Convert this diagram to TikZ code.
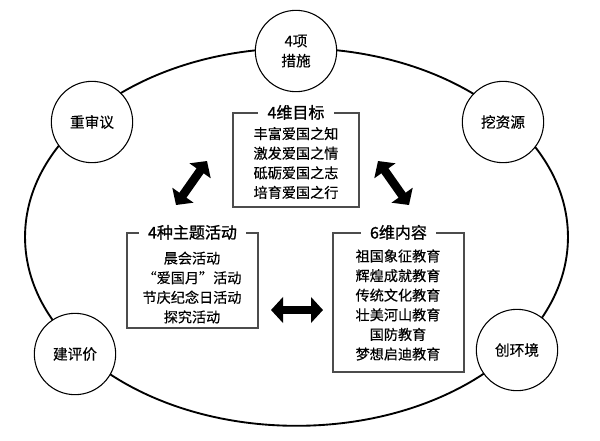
\documentclass[tikz,border=0pt]{standalone}
\usepackage{fontspec}
\newfontfamily\cjk[UprightFeatures={FakeBold=0.3}]{Noto Sans CJK SC}
\newfontfamily\cjkhead[UprightFeatures={FakeBold=1.2}]{Noto Sans CJK SC}
\usetikzlibrary{arrows.meta}

\tikzset{
  ring/.style={circle,draw,line width=0.8pt,fill=white,minimum size=61pt,inner sep=0pt},
  frame/.style={draw=black!70,line width=0.9pt,inner sep=0pt},
  boxtitle/.style={fill=white,inner xsep=7pt,inner ysep=1pt,font=\cjkhead\fontsize{12}{14}\selectfont},
  lines/.style={align=center,font=\cjk\fontsize{10.6}{14.7}\selectfont},
  fatarrow/.style={line width=6.5pt,{Triangle[length=9pt,width=19pt]}-{Triangle[length=9pt,width=19pt]}}
}

\begin{document}
\begin{tikzpicture}[x=0.75pt,y=-0.75pt,every node/.style={font=\cjk\fontsize{11}{15}\selectfont}]
\useasboundingbox (0,0) rectangle (600,440);
% outer ring
\draw[line width=1.4pt] (296.5,237) ellipse (203.6pt and 141.6pt);

% the five circles
\node[ring,align=center] (cuoshi) at (296,51) {4项\\措施};
\node[ring] (shenyi) at (92,122) {重审议};
\node[ring] (ziyuan) at (503,122) {挖资源};
\node[ring] (pingjia) at (75,354) {建评价};
\node[ring] (huanjing) at (517,350) {创环境};

% 4维目标
\node[frame,minimum width=94.5pt,minimum height=70.5pt] (mubiao) at (296,160) {};
\node[boxtitle] (mubiaot) at (mubiao.north) {4维目标};
\node[lines] (mubiaol) at (296,163) {丰富爱国之知\\激发爱国之情\\砥砺爱国之志\\培育爱国之行};

% 4种主题活动
\node[frame,minimum width=98.3pt,minimum height=71.3pt] (huodong) at (192.5,280.5) {};
\node[boxtitle] (huodongt) at (huodong.north) {4种主题活动};
\node[lines,text depth=0pt] (huodongl) at (192,287) {晨会活动\\“爱国月”活动\\节庆纪念日活动\\探究活动};

% 6维内容
\node[frame,minimum width=98.3pt,minimum height=104.3pt] (neirong) at (398.5,302.5) {};
\node[boxtitle] (neirongt) at (neirong.north) {6维内容};
\node[lines] (neirongl) at (398,305) {祖国象征教育\\辉煌成就教育\\传统文化教育\\壮美河山教育\\国防教育\\梦想启迪教育};

% arrows
\coordinate (a1) at (176,205);
\coordinate (a2) at (207,161);
\coordinate (b1) at (378,161);
\coordinate (b2) at (409,205);
\coordinate (c1) at (271,310);
\coordinate (c2) at (323,310);
\draw[fatarrow] (a1) -- (a2);
\draw[fatarrow] (b1) -- (b2);
\draw[fatarrow] (c1) -- (c2);
\end{tikzpicture}
\end{document}
